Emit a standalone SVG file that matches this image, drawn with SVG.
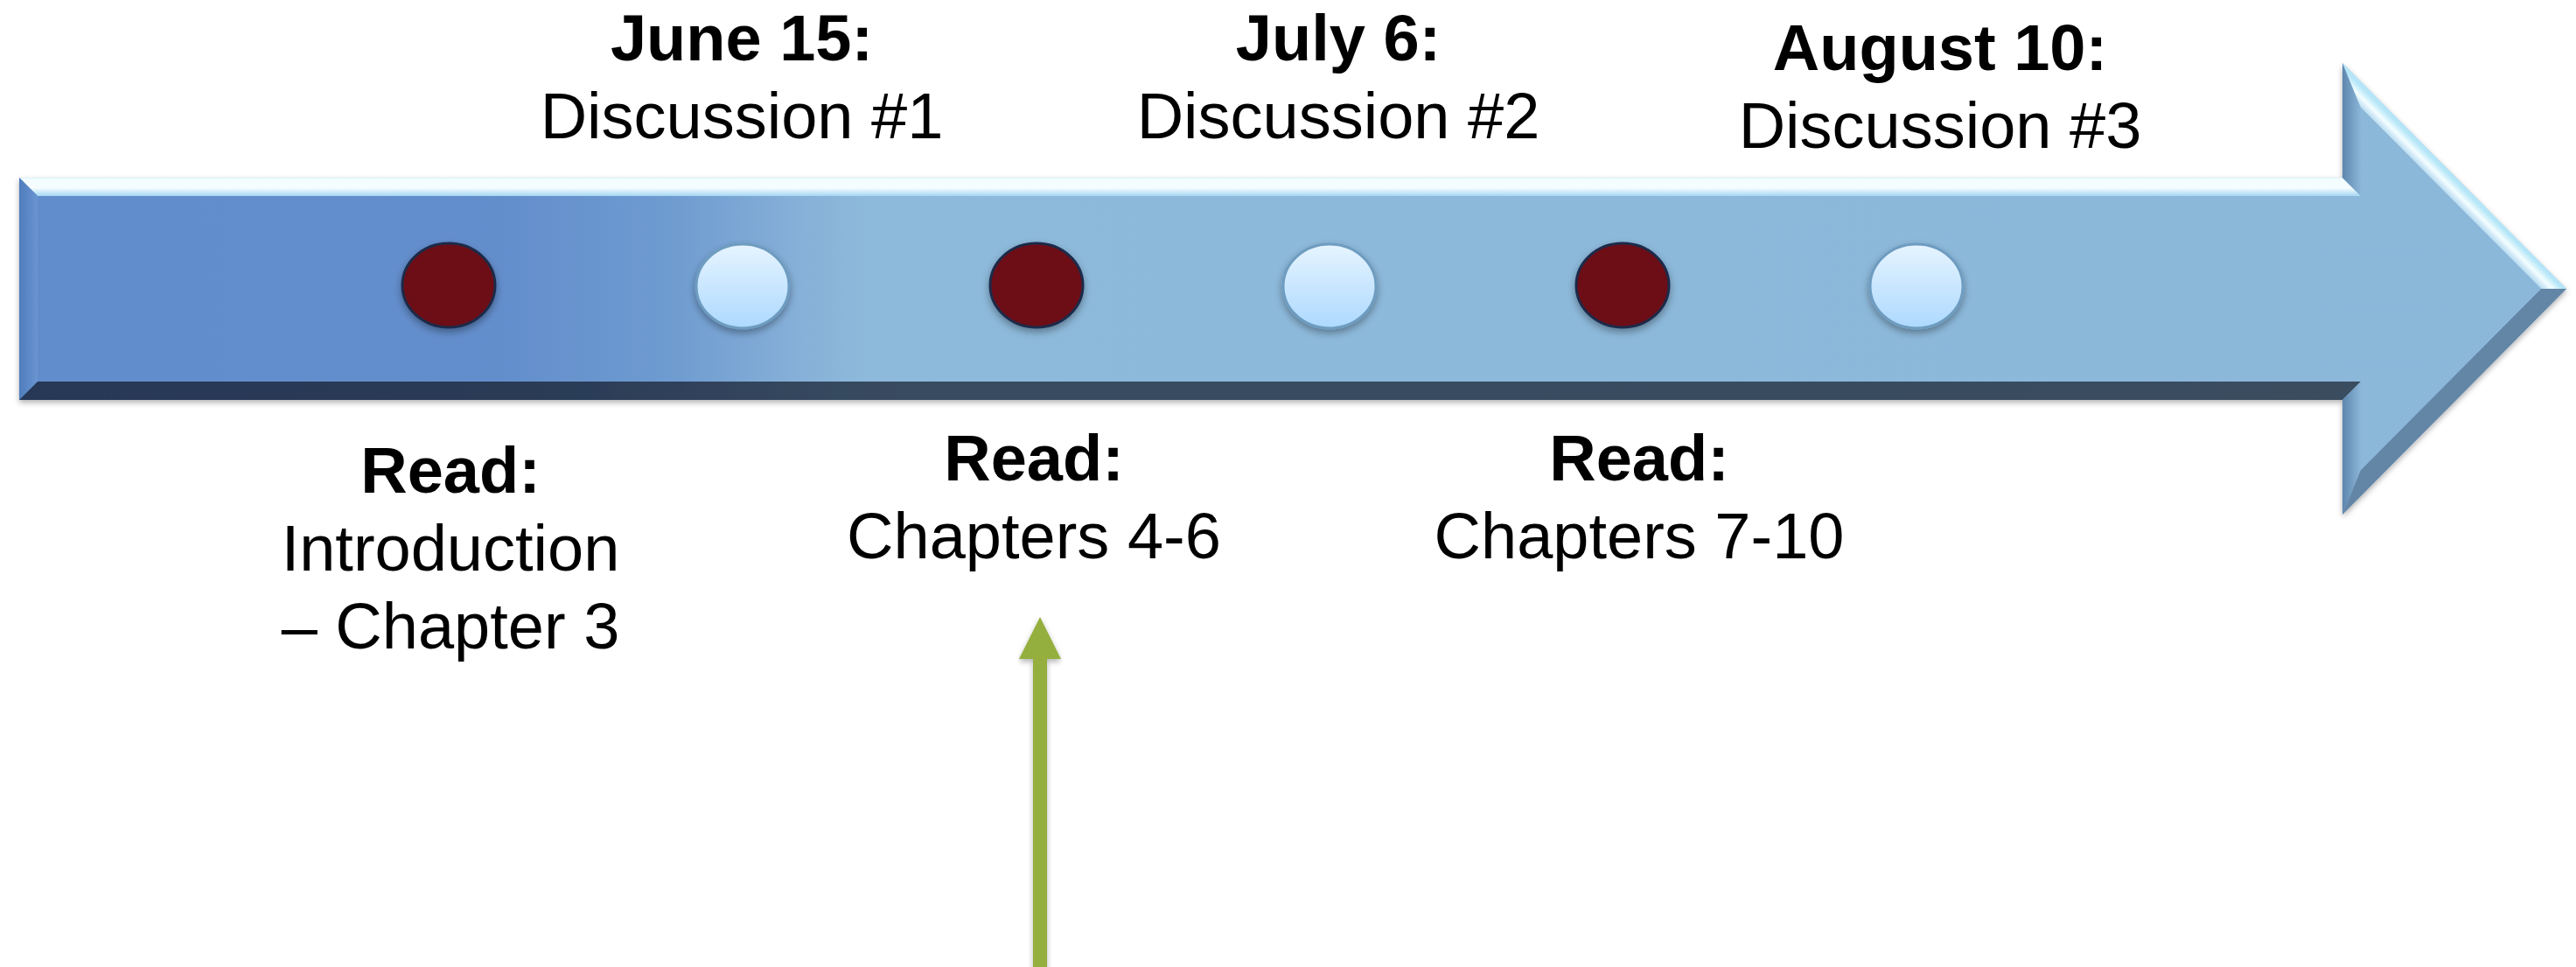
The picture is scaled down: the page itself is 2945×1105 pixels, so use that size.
<svg xmlns="http://www.w3.org/2000/svg" width="2945" height="1105" viewBox="0 0 2945 1105">
<style>
.t{font-family:"Liberation Sans",Arial,sans-serif;font-size:74px;fill:#000;text-anchor:middle}
.b{font-weight:bold}
.red{fill:#6D0E19;stroke:#1F2A48;stroke-width:3}
.lt{fill:url(#gLight);stroke:#6E9CC0;stroke-width:3}
</style>
<defs>
<linearGradient id="gBody" x1="0" y1="0" x2="2945" y2="0" gradientUnits="userSpaceOnUse">
<stop offset="0" stop-color="#628DCC"/>
<stop offset="0.195" stop-color="#638ECC"/>
<stop offset="0.26" stop-color="#6E9BD0"/>
<stop offset="0.31" stop-color="#86B0D8"/>
<stop offset="0.335" stop-color="#8DB9DA"/>
<stop offset="1" stop-color="#8BB7D9"/>
</linearGradient>
<linearGradient id="gTop" x1="0" y1="201" x2="0" y2="224" gradientUnits="userSpaceOnUse">
<stop offset="0" stop-color="#A8E4F4"/>
<stop offset="0.15" stop-color="#F2FCFF"/>
<stop offset="0.6" stop-color="#F6FDFF"/>
<stop offset="1" stop-color="#A5D6F2"/>
</linearGradient>
<linearGradient id="gBot" x1="0" y1="0" x2="2945" y2="0" gradientUnits="userSpaceOnUse">
<stop offset="0" stop-color="#283956"/>
<stop offset="0.2" stop-color="#293A56"/>
<stop offset="0.35" stop-color="#384B60"/>
<stop offset="1" stop-color="#3A4D5F"/>
</linearGradient>
<linearGradient id="gLeft" x1="22" y1="0" x2="43" y2="0" gradientUnits="userSpaceOnUse">
<stop offset="0" stop-color="#4F7DBD"/>
<stop offset="1" stop-color="#6A95D0"/>
</linearGradient>
<linearGradient id="gBase" x1="2678" y1="0" x2="2699" y2="0" gradientUnits="userSpaceOnUse">
<stop offset="0" stop-color="#5E86AE"/>
<stop offset="1" stop-color="#8CB6D8"/>
</linearGradient>
<linearGradient id="gDiagTop" x1="2695" y1="95" x2="2680" y2="110" gradientUnits="userSpaceOnUse">
<stop offset="0" stop-color="#B5E6F8"/>
<stop offset="0.4" stop-color="#F4FDFF"/>
<stop offset="1" stop-color="#9ACBEA"/>
</linearGradient>
<linearGradient id="gLight" x1="0" y1="0" x2="0" y2="1">
<stop offset="0" stop-color="#E6F4FF"/>
<stop offset="1" stop-color="#ADD9FF"/>
</linearGradient>
<filter id="sh" x="-5%" y="-20%" width="110%" height="150%">
<feDropShadow dx="0" dy="4" stdDeviation="4" flood-color="#000" flood-opacity="0.35"/>
</filter>
<filter id="shA" x="-2%" y="-5%" width="104%" height="115%">
<feDropShadow dx="0" dy="3" stdDeviation="3" flood-color="#000" flood-opacity="0.3"/>
</filter>
</defs>

<g id="timeline-arrow" filter="url(#shA)">
<polygon points="22,203 2678,203 2678,72 2934,330 2678,588 2678,457 22,457" fill="url(#gBody)"/>
<polygon points="22,203 2678,203 2699,224 43,224" fill="url(#gTop)"/>
<polygon points="22,203 43,224 43,436 22,457" fill="url(#gLeft)"/>
<polygon points="43,436 2699,436 2678,457 22,457" fill="url(#gBot)"/>
<polygon points="2678,72 2699,123 2699,224 2678,203" fill="url(#gBase)"/>
<polygon points="2678,457 2699,436 2699,537 2678,588" fill="url(#gBase)"/>
<polygon points="2678,72 2934,330 2905,330 2699,123" fill="url(#gDiagTop)"/>
<polygon points="2905,330 2934,330 2678,588 2699,537" fill="#6385A6"/>
<polygon points="43,224 2699,224 2699,123 2905,330 2699,537 2699,436 43,436" fill="url(#gBody)"/>
</g>

<g id="reading-milestones" filter="url(#sh)">
<ellipse class="red" cx="513" cy="326" rx="53" ry="48"/>
<ellipse class="red" cx="1185" cy="326" rx="53" ry="48"/>
<ellipse class="red" cx="1855" cy="326" rx="53" ry="48"/>
</g>
<g id="discussion-milestones" filter="url(#sh)">
<ellipse class="lt" cx="849" cy="327" rx="53" ry="48"/>
<ellipse class="lt" cx="1520" cy="327" rx="53" ry="48"/>
<ellipse class="lt" cx="2191" cy="327" rx="53" ry="48"/>
</g>

<g id="label-june15">
<text class="t b" x="848" y="69">June 15:</text>
<text class="t" x="848" y="158">Discussion #1</text>
</g>
<g id="label-july6">
<text class="t b" x="1530" y="69">July 6:</text>
<text class="t" x="1530" y="158">Discussion #2</text>
</g>
<g id="label-august10">
<text class="t b" x="2218" y="80">August 10:</text>
<text class="t" x="2218" y="169">Discussion #3</text>
</g>
<g id="label-read1">
<text class="t b" x="515" y="563">Read:</text>
<text class="t" x="515" y="652">Introduction</text>
<text class="t" x="515" y="741">– Chapter 3</text>
</g>
<g id="label-read2">
<text class="t b" x="1182" y="549">Read:</text>
<text class="t" x="1182" y="638">Chapters 4-6</text>
</g>
<g id="label-read3">
<text class="t b" x="1874" y="549">Read:</text>
<text class="t" x="1874" y="638">Chapters 7-10</text>
</g>

<g id="connectors" filter="url(#shA)">
<rect x="1181" y="750" width="16" height="360" fill="#94AF3C"/>
<polygon points="1189,705 1213,753 1165,753" fill="#94AF3C"/>
</g>
</svg>
